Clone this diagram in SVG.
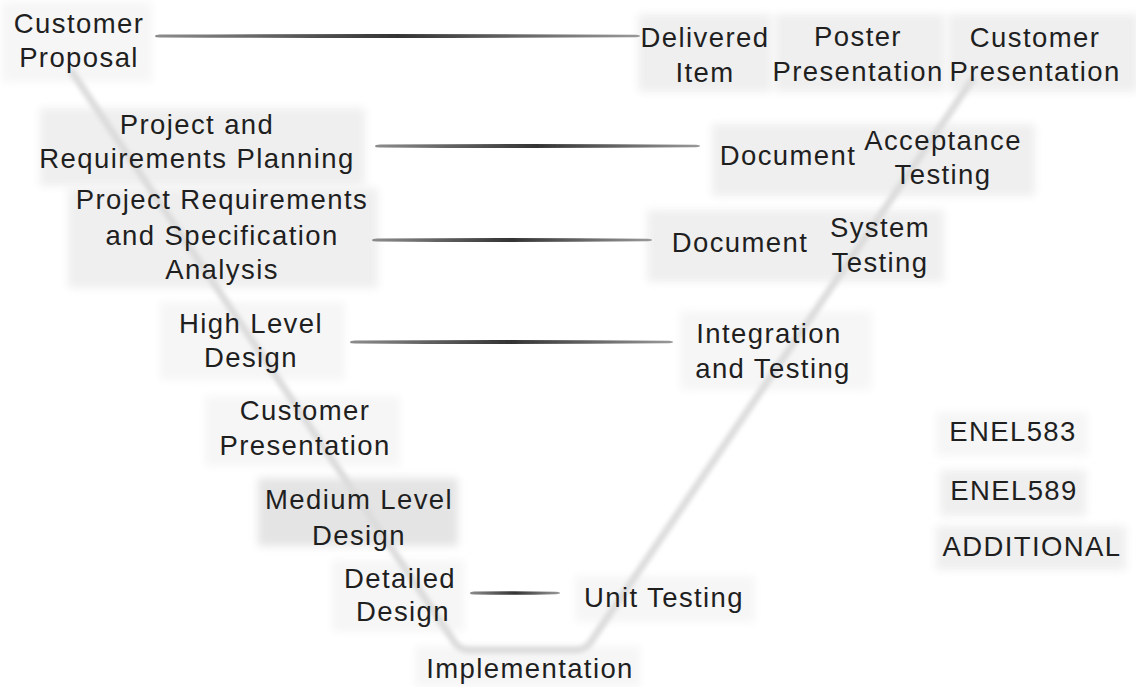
<svg xmlns="http://www.w3.org/2000/svg" width="1136" height="687" viewBox="0 0 1136 687">
<defs>
<filter id="soft" x="-10%" y="-20%" width="120%" height="140%"><feGaussianBlur stdDeviation="4"/></filter>
<filter id="vblur" x="-10%" y="-10%" width="120%" height="120%"><feGaussianBlur stdDeviation="2"/></filter>
<filter id="lblur" x="-5%" y="-200%" width="110%" height="500%"><feGaussianBlur stdDeviation="0.5"/></filter>
<linearGradient id="hg" x1="0" y1="0" x2="1" y2="0">
<stop offset="0" stop-color="#8c8c8c"/>
<stop offset="0.5" stop-color="#333333"/>
<stop offset="1" stop-color="#999999"/>
</linearGradient>
</defs>
<style>
text{font-family:"Liberation Sans",Arial,sans-serif;font-size:27.5px;fill:#1f1f1f;text-anchor:middle;letter-spacing:1.4px}
.box{fill:#efefef;filter:url(#soft)}
.boxd{fill:#e4e4e4;filter:url(#soft)}
.boxl{fill:#f6f6f6;filter:url(#soft)}
.v{stroke:#dcdcdc;stroke-width:7;fill:none;stroke-linecap:round;stroke-linejoin:round;filter:url(#vblur)}
.h{fill:url(#hg);filter:url(#lblur)}
</style>
<rect width="1136" height="687" fill="#ffffff"/>
<g id="backgrounds">
<rect class="boxl" x="2" y="2" width="150" height="80"/>
<rect class="box" x="638" y="14" width="134" height="78"/>
<rect class="box" x="775" y="14" width="170" height="78"/>
<rect class="box" x="948" y="14" width="190" height="78"/>
<rect class="box" x="40" y="108" width="325" height="78"/>
<rect class="box" x="712" y="124" width="323" height="72"/>
<rect class="box" x="68" y="188" width="310" height="100"/>
<rect class="box" x="647" y="210" width="297" height="72"/>
<rect class="boxl" x="160" y="302" width="185" height="78"/>
<rect class="boxl" x="680" y="311" width="192" height="79"/>
<rect class="boxl" x="205" y="396" width="195" height="70"/>
<rect class="boxd" x="258" y="478" width="200" height="68"/>
<rect class="boxl" x="332" y="560" width="132" height="72"/>
<rect class="boxl" x="575" y="576" width="180" height="46"/>
<rect class="boxl" x="415" y="646" width="225" height="41"/>
<rect class="boxl" x="936" y="412" width="152" height="44"/>
<rect class="box" x="940" y="470" width="146" height="46"/>
<rect class="box" x="936" y="526" width="190" height="44"/>
</g>
<g id="connectors">
<path class="v" d="M 72 72 L 455 643 Q 460 650 470 650 L 575 650 Q 585 650 590 643 L 972 80"/>
<path class="h" d="M 155 36.2 Q 155 34.6 160 34.6 Q 400 33.4 636 34.8 Q 640 35 640 36 Q 640 37 636 37.2 Q 400 38.6 160 37.4 Q 155 37.4 155 36.2 Z"/>
<path class="h" d="M 375 146.2 Q 375 144.6 380 144.6 Q 540 143.4 696 144.8 Q 700 145 700 146 Q 700 147 696 147.2 Q 540 148.6 380 147.4 Q 375 147.4 375 146.2 Z"/>
<path class="h" d="M 372 240.2 Q 372 238.6 377 238.6 Q 510 237.4 648 238.8 Q 652 239 652 240 Q 652 241 648 241.2 Q 510 242.6 377 241.4 Q 372 241.4 372 240.2 Z"/>
<path class="h" d="M 350 342.2 Q 350 340.6 355 340.6 Q 510 339.4 669 340.8 Q 673 341 673 342 Q 673 343 669 343.2 Q 510 344.6 355 343.4 Q 350 343.4 350 342.2 Z"/>
<path class="h" d="M 470 593.2 Q 470 591.6 474 591.6 Q 515 590.6 556 591.8 Q 560 592 560 593 Q 560 594 556 594.2 Q 515 595.4 474 594.4 Q 470 594.4 470 593.2 Z"/>
</g>
<g id="customer-proposal"><text x="79" y="33">Customer</text><text x="79" y="67">Proposal</text></g>
<g id="delivered-item"><text x="705" y="47">Delivered</text><text x="705" y="82">Item</text></g>
<g id="poster-presentation"><text x="858" y="46">Poster</text><text x="858" y="81">Presentation</text></g>
<g id="customer-presentation-top"><text x="1035" y="47">Customer</text><text x="1035" y="81">Presentation</text></g>
<g id="project-planning"><text x="197" y="134">Project and</text><text x="197" y="168">Requirements Planning</text></g>
<g id="document-1"><text x="788" y="165">Document</text></g>
<g id="acceptance-testing"><text x="943" y="150">Acceptance</text><text x="943" y="184">Testing</text></g>
<g id="project-requirements"><text x="222" y="209">Project Requirements</text><text x="222" y="245">and Specification</text><text x="222" y="279">Analysis</text></g>
<g id="document-2"><text x="740" y="252">Document</text></g>
<g id="system-testing"><text x="880" y="237">System</text><text x="880" y="272">Testing</text></g>
<g id="high-level-design"><text x="251" y="333">High Level</text><text x="251" y="367">Design</text></g>
<g id="integration-testing"><text x="769" y="343">Integration</text><text x="773" y="378">and Testing</text></g>
<g id="customer-presentation-mid"><text x="305" y="420">Customer</text><text x="305" y="455">Presentation</text></g>
<g id="medium-level-design"><text x="359" y="509">Medium Level</text><text x="359" y="545">Design</text></g>
<g id="detailed-design"><text x="400" y="588">Detailed</text><text x="403" y="621">Design</text></g>
<g id="unit-testing"><text x="664" y="607">Unit Testing</text></g>
<g id="implementation"><text x="530" y="678">Implementation</text></g>
<g id="enel583"><text x="1013" y="441">ENEL583</text></g>
<g id="enel589"><text x="1014" y="500">ENEL589</text></g>
<g id="additional"><text x="1032" y="556">ADDITIONAL</text></g>
</svg>
